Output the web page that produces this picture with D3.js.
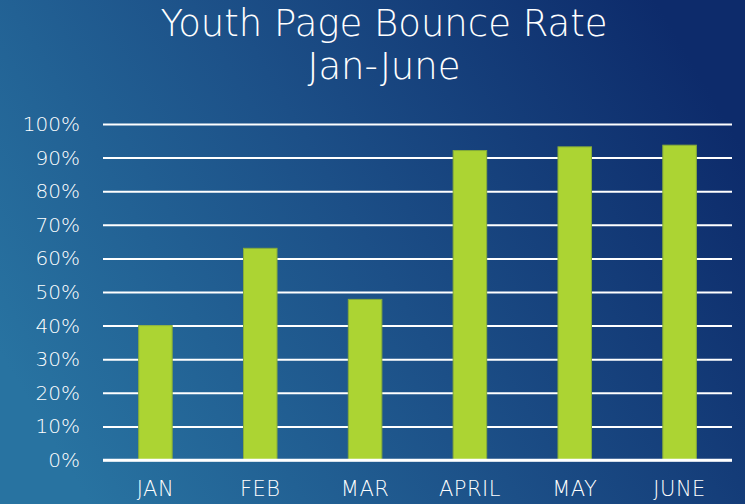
<!DOCTYPE html>
<html><head><meta charset="utf-8">
<script src="https://cdn.jsdelivr.net/npm/d3@7"></script>
<style>html,body{margin:0;padding:0;overflow:hidden;background:#1a4f86}</style>
</head><body>
<svg id="chart" width="745" height="504"></svg>
<script>
const titleLines = ["Youth Page Bounce Rate", "Jan-June"];
const categories = ["JAN", "FEB", "MAR", "APRIL", "MAY", "JUNE"];
const bounceRate = [40, 63, 47.8, 92.1, 93.2, 93.7];
const yTicks = [0, 10, 20, 30, 40, 50, 60, 70, 80, 90, 100];

const svg = d3.select("#chart");
const W = 745, H = 504;
const margin = {left: 103, right: 13, top: 124, bottom: 44};
const FONT = "'DejaVu Sans', sans-serif";

const defs = svg.append("defs");
const g1 = defs.append("linearGradient").attr("id", "bg")
  .attr("x1", "0%").attr("y1", "70%").attr("x2", "100%").attr("y2", "30%");
g1.append("stop").attr("offset", "0%").attr("stop-color", "#2873a1");
g1.append("stop").attr("offset", "50%").attr("stop-color", "#1c4f87");
g1.append("stop").attr("offset", "100%").attr("stop-color", "#0d2b6b");
svg.append("rect").attr("width", W).attr("height", H).attr("fill", "url(#bg)");

const x = d3.scaleBand().domain(categories).range([margin.left, W - margin.right]).paddingInner(0.68).paddingOuter(0.34);
const y = d3.scaleLinear().domain([0, 100]).range([H - margin.bottom, margin.top]);

// gridlines
const yAxis = d3.axisLeft(y).tickValues(yTicks).tickFormat(d => d + "%")
  .tickSize(-(W - margin.left - margin.right)).tickPadding(23);
const ga = svg.append("g").attr("transform", `translate(${margin.left},0)`).call(yAxis);
ga.select(".domain").remove();
ga.selectAll(".tick line").attr("stroke", "#ffffff").attr("stroke-width", d => d === 0 ? 2.5 : 2);
ga.selectAll(".tick text").attr("fill", "#ffffff").attr("font-family", FONT)
  .attr("font-weight", 200).attr("font-size", 20);

// bars
svg.append("g").selectAll("rect").data(bounceRate).join("rect")
  .attr("x", (d, i) => x(categories[i]))
  .attr("y", d => y(d))
  .attr("width", x.bandwidth())
  .attr("height", d => y(0) - y(d))
  .attr("fill", "#acd433")
  .attr("stroke", "#86ac3a").attr("stroke-width", 1);

// redraw baseline over bars
svg.append("line").attr("x1", margin.left).attr("x2", W - margin.right)
  .attr("y1", y(0)).attr("y2", y(0)).attr("stroke", "#fff").attr("stroke-width", 2.5);

// x axis
const xAxis = d3.axisBottom(x).tickSize(0).tickPadding(21);
const gx = svg.append("g").attr("transform", `translate(0,${y(0)})`).call(xAxis);
gx.select(".domain").remove();
gx.selectAll(".tick text").attr("fill", "#ffffff").attr("font-family", FONT)
  .attr("font-weight", 200).attr("font-size", 21).attr("letter-spacing", 0.5);

// title
svg.append("g").selectAll("text").data(titleLines).join("text")
  .attr("x", 384).attr("y", (d, i) => 36 + i * 43)
  .attr("text-anchor", "middle").attr("fill", "#ffffff")
  .attr("font-family", FONT).attr("font-weight", 200)
  .attr("font-size", 37).text(d => d);
</script>
</body></html>
